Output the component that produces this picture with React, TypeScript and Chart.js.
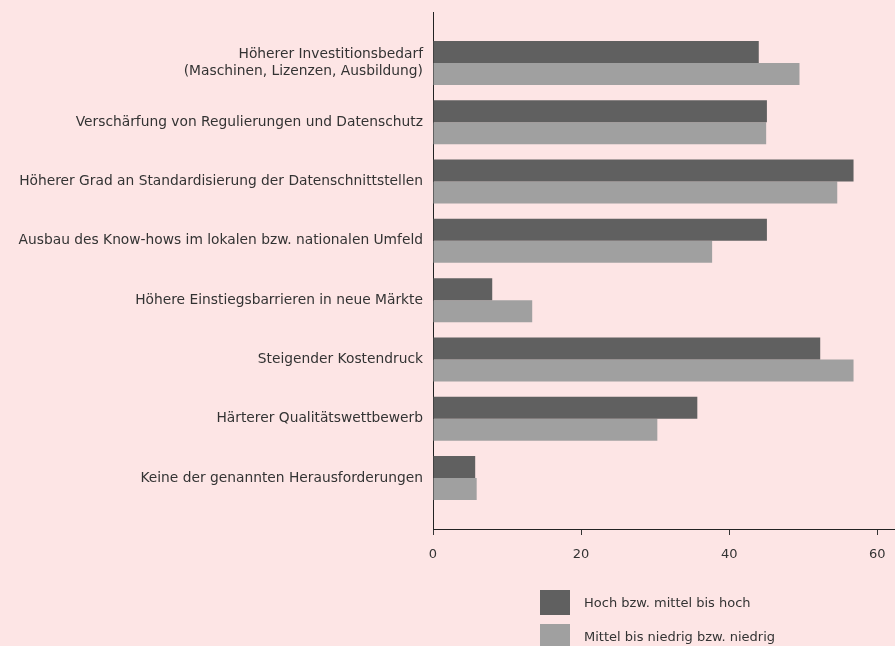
import React, { useEffect, useRef } from "react";
import { Chart, registerables } from "chart.js";

Chart.register(...registerables);

const categories: (string | string[])[] = [
  ["Höherer Investitionsbedarf", "(Maschinen, Lizenzen, Ausbildung)"],
  "Verschärfung von Regulierungen und Datenschutz",
  "Höherer Grad an Standardisierung der Datenschnittstellen",
  "Ausbau des Know-hows im lokalen bzw. nationalen Umfeld",
  "Höhere Einstiegsbarrieren in neue Märkte",
  "Steigender Kostendruck",
  "Härterer Qualitätswettbewerb",
  "Keine der genannten Herausforderungen",
];

const seriesHigh = [44.0, 45.1, 56.8, 45.1, 8.0, 52.3, 35.7, 5.7];
const seriesLow = [49.5, 45.0, 54.6, 37.7, 13.4, 56.8, 30.3, 5.9];
const seriesNames = ["Hoch bzw. mittel bis hoch", "Mittel bis niedrig bzw. niedrig"];
const xTicks = [0, 20, 40, 60];

const BG = "#fde5e5";
const DARK = "#606060";
const LIGHT = "#a0a0a0";
const TEXT = "#333333";
const FONT = "'DejaVu Sans', sans-serif";

export default function App() {
  const ref = useRef<HTMLCanvasElement>(null);

  useEffect(() => {
    document.body.style.margin = "0";
    document.body.style.background = BG;
    const ctx = ref.current!;
    const bgPlugin = {
      id: "bg",
      beforeDraw(chart: any) {
        const c = chart.ctx;
        c.save();
        c.fillStyle = BG;
        c.fillRect(0, 0, chart.width, chart.height);
        c.restore();
      },
    };
    const chart = new Chart(ctx, {
      type: "bar",
      data: {
        datasets: [
          {
            label: seriesNames[0],
            data: seriesHigh.map((v, i) => ({ x: v, y: i })),
            backgroundColor: DARK,
            categoryPercentage: 0.742,
            barPercentage: 1,
          },
          {
            label: seriesNames[1],
            data: seriesLow.map((v, i) => ({ x: v, y: i })),
            backgroundColor: LIGHT,
            categoryPercentage: 0.742,
            barPercentage: 1,
          },
        ],
      },
      options: {
        indexAxis: "y",
        animation: false,
        responsive: false,
        maintainAspectRatio: false,
        layout: { padding: { top: 12, right: 0, bottom: 0, left: 0 } },
        plugins: {
          legend: { display: false },
          tooltip: { enabled: false },
        },
        scales: {
          y: {
            type: "linear",
            reverse: true,
            offset: false,
            min: -0.86,
            max: 7.86,
            afterBuildTicks: (s: any) => {
              s.ticks = categories.map((_, i) => ({ value: i }));
            },
            afterFit: (s: any) => {
              s.width = 433;
              s.paddingTop = 0;
              s.paddingBottom = 0;
            },
            grid: { display: false, drawTicks: false },
            border: { display: true, color: "#222", width: 1 },
            ticks: {
              color: TEXT,
              font: { family: FONT, size: 13.8 },
              padding: 10,
              autoSkip: false,
              callback: (v: any) => categories[v as number] ?? "",
            },
          },
          x: {
            type: "linear",
            min: 0,
            max: 62.4,
            afterBuildTicks: (s: any) => {
              s.ticks = xTicks.map((v) => ({ value: v }));
            },
            afterFit: (s: any) => {
              s.height = 117;
              s.paddingLeft = 0;
              s.paddingRight = 0;
            },
            grid: { display: true, drawOnChartArea: false, drawTicks: true, tickLength: 6, color: "#333" },
            border: { display: true, color: "#222", width: 1 },
            ticks: {
              color: TEXT,
              font: { family: FONT, size: 13 },
              padding: 12,
              maxRotation: 0,
            },
          },
        },
      } as any,
      plugins: [bgPlugin],
    });
    return () => chart.destroy();
  }, []);

  const legendItem = (color: string, label: string, top: number) => (
    <div style={{ position: "absolute", left: 540, top, display: "flex", alignItems: "center" }}>
      <div style={{ width: 30, height: 25, background: color }} />
      <span style={{ marginLeft: 14, fontFamily: FONT, fontSize: 13, color: TEXT }}>{label}</span>
    </div>
  );

  return (
    <div style={{ position: "relative", width: 895, height: 646, background: BG, overflow: "hidden" }}>
      <canvas ref={ref} width={895} height={646} style={{ display: "block" }} />
      {legendItem(DARK, seriesNames[0], 590)}
      {legendItem(LIGHT, seriesNames[1], 624)}
    </div>
  );
}
